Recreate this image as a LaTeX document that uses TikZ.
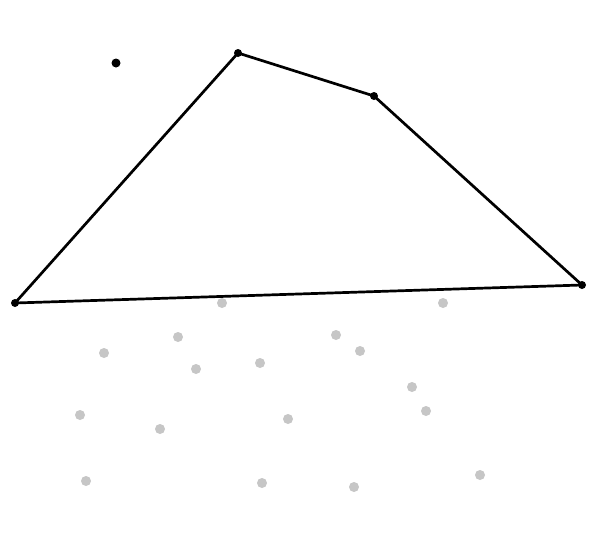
\documentclass[tikz,border=0pt]{standalone}
\begin{document}
\begin{tikzpicture}[x=1pt,y=-1pt,
  edge/.style={line width=2.7pt,black,line join=round},
  vdot/.style={fill=black,draw=none},
  gdot/.style={fill={rgb,255:red,198;green,198;blue,198},draw=none}]
\useasboundingbox (0,0) rectangle (590,560);
\fill[white] (0,0) rectangle (590,560);
\coordinate (A) at (15,303);
\coordinate (B) at (238,53);
\coordinate (C) at (374,96);
\coordinate (D) at (582,285);
\coordinate (P) at (116,63);
\draw[edge] (A) -- (B) -- (C) -- (D) -- cycle;
\foreach \p in {A,B,C,D} \fill[vdot] (\p) circle (4);
\fill[vdot] (P) circle (4.5);
\foreach \x/\y in {222/303,443/303,178/337,104/353,196/369,260/363,336/335,360/351,412/387,426/411,80/415,160/429,288/419,86/481,262/483,354/487,480/475}
  \fill[gdot] (\x,\y) circle (5);
\end{tikzpicture}
\end{document}
